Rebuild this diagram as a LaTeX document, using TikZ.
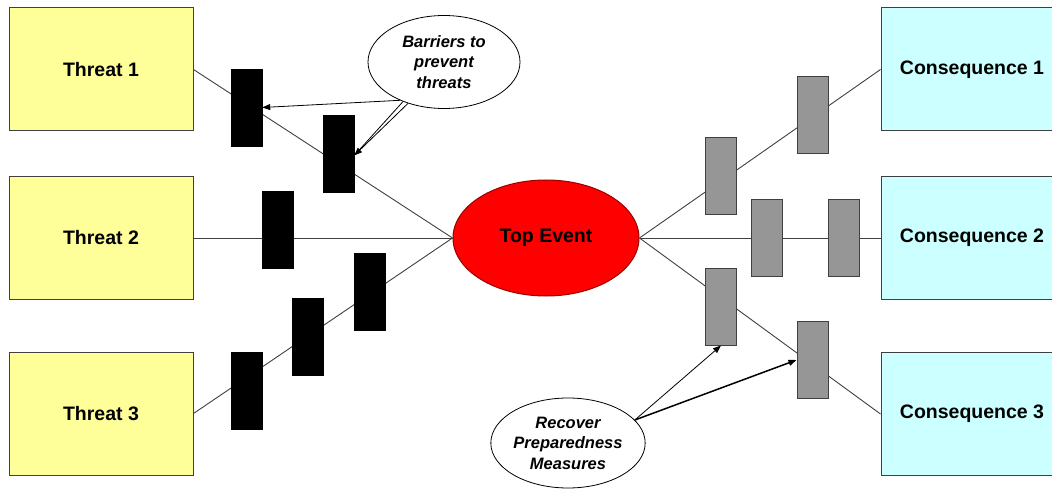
\documentclass[tikz,border=0pt]{standalone}
\usepackage{fontspec}
\setmainfont{Liberation Sans}
\usetikzlibrary{shapes.geometric,arrows.meta}
\definecolor{threatfill}{HTML}{FFFF99}
\definecolor{consfill}{HTML}{CCFFFF}
\definecolor{boxline}{HTML}{404040}
\definecolor{barrgray}{HTML}{969696}
\definecolor{topred}{HTML}{FF0000}
\definecolor{topline}{HTML}{990000}
\definecolor{connline}{HTML}{404040}
\tikzset{
  threatbox/.style={draw=boxline, line width=1pt, fill=threatfill, minimum width=184pt, minimum height=123pt, inner sep=0pt, font=\fontsize{19.5}{23}\selectfont\bfseries},
  consbox/.style={draw=boxline, line width=1pt, fill=consfill, minimum width=182pt, minimum height=123pt, inner sep=0pt, font=\fontsize{19.5}{23}\selectfont\bfseries},
  topev/.style={ellipse, draw=topline, line width=1pt, fill=topred, minimum width=186pt, minimum height=116pt, inner sep=0pt, font=\fontsize{19.5}{23}\selectfont\bfseries},
  blackbar/.style={draw=black, fill=black, minimum width=31pt, minimum height=77pt, inner sep=0pt},
  graybar/.style={draw=boxline, line width=1pt, fill=barrgray, minimum width=31pt, minimum height=77pt, inner sep=0pt},
  callout/.style={ellipse, draw=black, line width=0.8pt, fill=white, inner sep=0pt, align=center, font=\fontsize{16.5}{20.5}\selectfont\bfseries\itshape},
  conn/.style={draw=connline, line width=0.9pt},
  pointer/.style={draw=black, line width=0.8pt, -{Triangle[length=8pt,width=6pt]}},
}
\begin{document}
\begin{tikzpicture}[x=1pt,y=-1pt]
\useasboundingbox (0,0) rectangle (1052,489);
% main nodes
\node[threatbox] (t1) at (101,69.5) {Threat 1};
\node[threatbox] (t2) at (101,238) {Threat 2};
\node[threatbox] (t3) at (101,413.5) {Threat 3};
\node[consbox] (c1) at (972,69.5) {Consequence 1};
\node[consbox] (c2) at (972,238) {Consequence 2};
\node[consbox] (c3) at (972,414) {Consequence 3};
\node[topev] (te) at (546,238) {Top Event};
% connectors
\draw[conn] (t1.east) -- (te.west);
\draw[conn] (t2.east) -- (te.west);
\draw[conn] (t3.east) -- (te.west);
\draw[conn] (te.east) -- (c1.west);
\draw[conn] (te.east) -- (c2.west);
\draw[conn] (te.east) -- (c3.west);
% barriers
\node[blackbar] (b1) at (246.5,107.5) {};
\node[blackbar] (b2) at (338.5,153.5) {};
\node[blackbar] (b3) at (277.5,230) {};
\node[blackbar] (b4) at (369.5,291.5) {};
\node[blackbar] (b5) at (307.5,336.5) {};
\node[blackbar] (b6) at (246.5,390.5) {};
\node[graybar] (g1) at (720.5,176.5) {};
\node[graybar] (g2) at (812.5,115.5) {};
\node[graybar] (g3) at (767,238) {};
\node[graybar] (g4) at (843.5,238) {};
\node[graybar] (g5) at (721,306.5) {};
\node[graybar] (g6) at (812.5,360) {};
% callouts
\node[callout, minimum width=152pt, minimum height=93pt] (cb) at (444,62) {Barriers to\\prevent\\threats};
\node[callout, minimum width=153pt, minimum height=90pt] (rm) at (568,443) {Recover\\Preparedness\\Measures};
\draw[pointer] (cb.221) -- (b1.east);
\draw[pointer] (cb.229) -- ([yshift=-2pt]b2.east);
\draw[draw=black, line width=0.8pt] (cb.224) -- ([yshift=-2pt]b2.east);
\draw[pointer] (rm.19) -- (g5.south);
\draw[pointer, line width=1.5pt] (rm.19) -- (g6.west);
\end{tikzpicture}
\end{document}
